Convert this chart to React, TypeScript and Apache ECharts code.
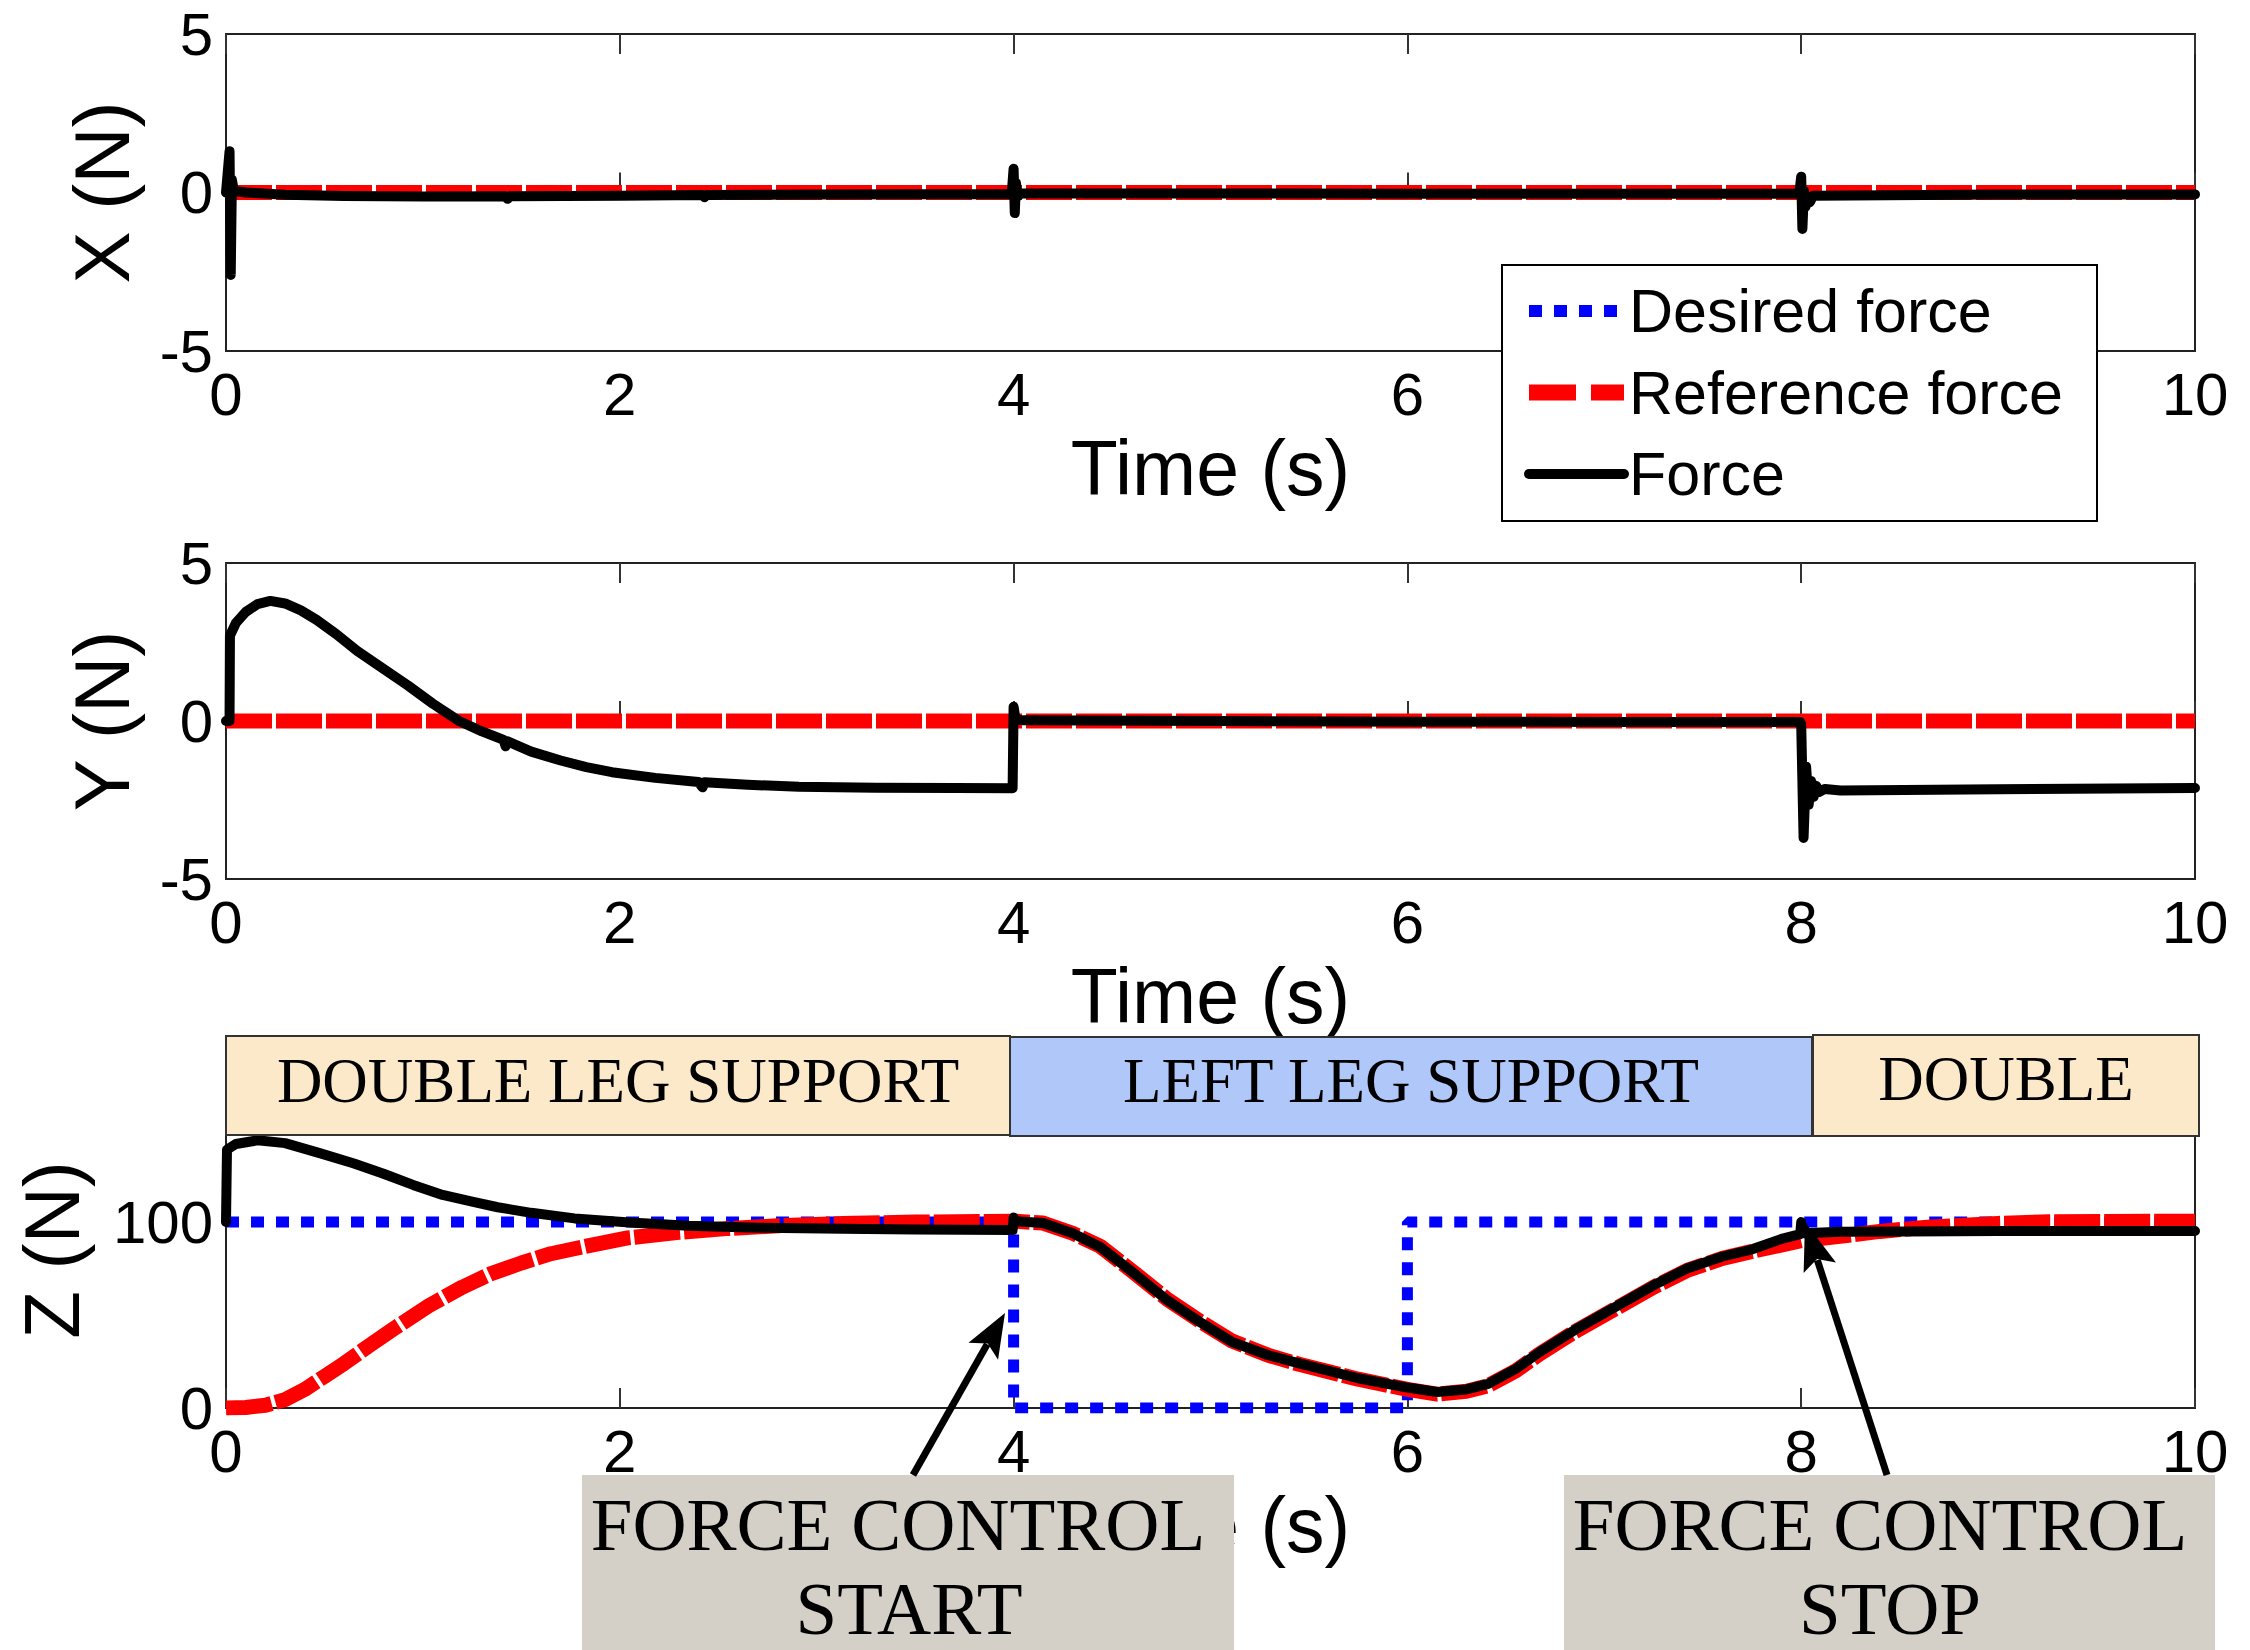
import React, { useEffect, useRef } from 'react';
import * as echarts from 'echarts';

// ---------- data ----------
const timeTicks = [0, 2, 4, 6, 8, 10];
const topHiddenTicks = [8]; // covered by the legend in the reference
const xyTickLabels = [-5, 0, 5];
const zTickLabels = [0, 100];
const seriesNames = ['Desired force', 'Reference force', 'Force'];
const axisNames = ['X (N)', 'Y (N)', 'Z (N)'];
const phaseLabels = ['DOUBLE LEG SUPPORT', 'LEFT LEG SUPPORT', 'DOUBLE'];
const startLabel = ['FORCE CONTROL', 'START'];
const stopLabel = ['FORCE CONTROL', 'STOP'];

const xDesired = [[0, 0], [10, 0]];
const xReference = [[0, 0], [10, 0]];
const xForce = [
  [0, 0], [0.018, 1.3], [0.024, -2.6], [0.03, 0.4], [0.04, 0.05], [0.1, 0.0], [0.3, -0.07], [0.6, -0.11],
  [1.0, -0.13], [1.42, -0.12], [1.43, -0.2], [1.44, -0.12], [2.0, -0.1], [2.42, -0.08], [2.43, -0.15],
  [2.44, -0.08], [3.0, -0.06], [3.99, -0.05], [4.0, 0.75], [4.006, -0.65], [4.012, 0.3], [4.02, -0.12],
  [4.04, -0.02], [5.0, -0.03], [6.0, -0.04], [7.0, -0.04], [7.99, -0.04], [8.0, 0.5], [8.006, -1.15],
  [8.014, 0.05], [8.022, -0.45], [8.032, -0.15], [8.045, -0.3], [8.06, -0.1], [9.0, -0.06], [10, -0.06],
];

const yDesired = [[0, 0], [10, 0]];
const yReference = [[0, 0], [10, 0]];
const yForce = [
  [0, 0], [0.018, 0], [0.02, 2.7], [0.05, 3.1], [0.1, 3.45], [0.16, 3.7], [0.225, 3.8], [0.3, 3.72],
  [0.38, 3.5], [0.46, 3.2], [0.56, 2.75], [0.666, 2.22], [0.8, 1.65], [0.925, 1.12], [1.05, 0.55],
  [1.184, 0.0], [1.3, -0.33], [1.41, -0.6], [1.42, -0.8], [1.43, -0.64], [1.55, -0.97], [1.7, -1.25],
  [1.83, -1.46], [1.96, -1.62], [2.18, -1.8], [2.4, -1.93], [2.42, -2.1], [2.43, -1.94], [2.65, -2.02],
  [2.91, -2.08], [3.3, -2.11], [3.7, -2.12], [3.995, -2.13], [4.0, 0.45], [4.01, 0.05], [4.05, 0.02],
  [5, 0.0], [6, -0.02], [7, -0.03], [7.995, -0.03], [8.0, -0.1], [8.012, -3.7], [8.025, -1.45],
  [8.038, -2.65], [8.05, -1.9], [8.063, -2.4], [8.076, -2.05], [8.09, -2.25], [8.12, -2.15], [8.2, -2.2],
  [9, -2.16], [10, -2.12],
];

const zDesired = [[0, 100], [4, 100], [4, 0], [6, 0], [6, 100], [10, 100]];
const zReference = [
  [0, 0], [0.1, 0.3], [0.2, 1.5], [0.3, 4.5], [0.4, 10], [0.5, 17], [0.6, 24], [0.72, 33], [0.85, 42.5],
  [1.03, 55], [1.2, 65], [1.34, 72], [1.5, 78], [1.65, 83], [1.85, 87.5], [2.04, 91.5], [2.3, 94.5],
  [2.54, 96.5], [2.8, 98], [3.13, 99.2], [3.5, 100], [4.0, 100.5], [4.15, 99.5], [4.3, 94], [4.44, 87],
  [4.61, 73], [4.78, 58.5], [4.95, 46.5], [5.11, 36], [5.29, 28.5], [5.45, 23.5], [5.75, 15.5], [6.0, 10],
  [6.15, 7.5], [6.3, 9], [6.41, 12], [6.55, 20], [6.67, 29], [6.85, 41], [7.05, 53], [7.25, 65], [7.42, 74],
  [7.6, 80.5], [7.74, 84], [8.0, 90], [8.13, 91.5], [8.4, 95], [8.64, 97.3], [9.0, 99.3], [9.26, 100.2],
  [10, 100.5],
];
const zForce = [
  [0, 100], [0.005, 139], [0.05, 142], [0.16, 144], [0.3, 142.5], [0.48, 137], [0.65, 131.5], [0.8, 126],
  [0.95, 120], [1.1, 114.6], [1.25, 111], [1.38, 108], [1.55, 105], [1.77, 102], [2.05, 99.8], [2.35, 98],
  [2.7, 97], [3.13, 96.4], [3.5, 96], [3.995, 95.7], [4.0, 102.5], [4.01, 100.5], [4.15, 99.5], [4.3, 94],
  [4.44, 86.6], [4.61, 72.6], [4.78, 58], [4.95, 46], [5.11, 35.5], [5.29, 28.5], [5.45, 24], [5.75, 16],
  [6.0, 11], [6.15, 8.6], [6.3, 10], [6.41, 13], [6.55, 21], [6.67, 30], [6.85, 42], [7.05, 54], [7.25, 66],
  [7.42, 75], [7.6, 81.5], [7.74, 85], [7.9, 91], [7.995, 93.5], [8.0, 100], [8.01, 94], [8.2, 94.8],
  [8.54, 95], [9, 95.2], [10, 95.2],
];

// ---------- styling ----------
const SANS = '"Liberation Sans", Arial, sans-serif';
const SERIF = '"Liberation Serif", "Times New Roman", serif';
const BLUE_DASH = [13, 12];
const RED_DASH = [46, 4];

const grids = [
  { left: 226, top: 34, width: 1969, height: 317 },
  { left: 226, top: 563, width: 1969, height: 316 },
  { left: 226, top: 1092, width: 1969, height: 316 },
];

function arrow(tail: number[], tip: number[], len: number, half: number) {
  const dx = tip[0] - tail[0];
  const dy = tip[1] - tail[1];
  const d = Math.sqrt(dx * dx + dy * dy);
  const ux = dx / d;
  const uy = dy / d;
  const bx = tip[0] - ux * len;
  const by = tip[1] - uy * len;
  const px = -uy;
  const py = ux;
  return [
    {
      type: 'line',
      z: 120,
      shape: { x1: tail[0], y1: tail[1], x2: bx + ux * 8, y2: by + uy * 8 },
      style: { stroke: '#000', lineWidth: 7 },
    },
    {
      type: 'polygon',
      z: 121,
      shape: {
        points: [
          [tip[0], tip[1]],
          [bx + px * half, by + py * half],
          [bx + ux * 9, by + uy * 9],
          [bx - px * half, by - py * half],
        ],
      },
      style: { fill: '#000' },
    },
  ];
}

function banner(x: number, y: number, w: number, h: number, fill: string, label: string, tx: number, ty: number) {
  return [
    { type: 'rect', z: 100, shape: { x, y, width: w, height: h }, style: { fill, stroke: '#333', lineWidth: 2 } },
    {
      type: 'text', z: 101, x: tx, y: ty,
      style: {
        text: label, fill: '#000', fontSize: 63, fontFamily: SERIF,
        align: 'center', verticalAlign: 'middle', textAlign: 'center', textVerticalAlign: 'middle',
      },
    },
  ];
}

function noteBox(x: number, w: number, lines: string[], cx1: number, cx2: number) {
  return [
    { type: 'rect', z: 110, shape: { x, y: 1475, width: w, height: 175 }, style: { fill: '#D4D0C8' } },
    {
      type: 'text', z: 111, x: cx1, y: 1524,
      style: {
        text: lines[0], fill: '#000', fontSize: 75, fontFamily: SERIF,
        align: 'center', verticalAlign: 'middle', textAlign: 'center', textVerticalAlign: 'middle',
      },
    },
    {
      type: 'text', z: 111, x: cx2, y: 1608,
      style: {
        text: lines[1], fill: '#000', fontSize: 75, fontFamily: SERIF,
        align: 'center', verticalAlign: 'middle', textAlign: 'center', textVerticalAlign: 'middle',
      },
    },
  ];
}

export default function App() {
  const ref = useRef<HTMLDivElement>(null);

  useEffect(() => {
    if (!ref.current) return;
    const chart = echarts.init(ref.current, undefined, { renderer: 'svg' });

    const tMin = timeTicks[0];
    const tMax = timeTicks[timeTicks.length - 1];
    const tInt = timeTicks[1] - timeTicks[0];

    const xAxes: any[] = [];
    grids.forEach((_, i) => {
      xAxes.push({
        type: 'value', gridIndex: i, min: tMin, max: tMax, interval: tInt, position: 'bottom',
        name: 'Time (s)', nameLocation: 'middle', nameGap: 78,
        nameTextStyle: { fontSize: 77, color: '#000', fontFamily: SANS },
        axisLine: { show: false },
        axisTick: { show: true, inside: true, length: 20, lineStyle: { color: '#333', width: 2 } },
        axisLabel: {
          fontSize: 60, color: '#000', fontFamily: SANS, margin: 13,
          formatter: (v: number) => (i === 0 && topHiddenTicks.indexOf(v) >= 0 ? '' : String(v)),
        },
        splitLine: { show: false },
      });
    });
    grids.forEach((_, i) => {
      xAxes.push({
        type: 'value', gridIndex: i, min: tMin, max: tMax, interval: tInt, position: 'top',
        axisLine: { show: false },
        axisTick: { show: true, inside: true, length: 20, lineStyle: { color: '#333', width: 2 } },
        axisLabel: { show: false },
        splitLine: { show: false },
      });
    });

    const yAxes: any[] = grids.map((_, i) => {
      const isZ = i === 2;
      const labels = isZ ? zTickLabels : xyTickLabels;
      return {
        type: 'value', gridIndex: i,
        min: isZ ? 0 : xyTickLabels[0],
        max: isZ ? 170 : xyTickLabels[xyTickLabels.length - 1],
        interval: isZ ? 100 : 5,
        name: axisNames[i], nameLocation: 'middle', nameRotate: 90, nameGap: isZ ? 135 : 85,
        nameTextStyle: { fontSize: 78, color: '#000', fontFamily: SANS },
        axisLine: { show: false },
        axisTick: { show: false },
        axisLabel: {
          fontSize: 60, color: '#000', fontFamily: SANS, margin: 13,
          formatter: (v: number) => (labels.indexOf(v) >= 0 ? String(v) : ''),
        },
        splitLine: { show: false },
      };
    });

    const sets = [
      [xDesired, xReference, xForce],
      [yDesired, yReference, yForce],
      [zDesired, zReference, zForce],
    ];
    const series: any[] = [];
    sets.forEach((s, i) => {
      series.push({
        type: 'line', name: seriesNames[0], xAxisIndex: i, yAxisIndex: i, data: s[0],
        symbol: 'none', lineStyle: { color: '#0000FF', width: 11, type: BLUE_DASH, cap: 'butt' },
        itemStyle: { color: '#0000FF' },
      });
      series.push({
        type: 'line', name: seriesNames[1], xAxisIndex: i, yAxisIndex: i, data: s[1],
        symbol: 'none',
        lineStyle: { color: '#FF0000', width: 15, type: RED_DASH, cap: 'butt' },
        itemStyle: { color: '#FF0000' },
      });
      series.push({
        type: 'line', name: seriesNames[2], xAxisIndex: i, yAxisIndex: i, data: s[2],
        symbol: 'none',
        lineStyle: { color: '#000000', width: 10, type: 'solid', cap: 'round', join: 'round' },
        itemStyle: { color: '#000000' },
      });
    });

    const graphics: any[] = [
      ...banner(226, 1036, 784, 99, '#FCE9CA', phaseLabels[0], 618, 1081),
      ...banner(1010, 1037, 802, 99, '#B0C7F9', phaseLabels[1], 1411, 1081),
      ...banner(1813, 1035, 386, 101, '#FCE9CA', phaseLabels[2], 2006, 1079),
      ...noteBox(582, 652, startLabel, 898, 909),
      ...noteBox(1564, 651, stopLabel, 1880, 1890),
      ...arrow([913, 1475], [1005, 1313], 44, 17),
      ...arrow([1887, 1475], [1805, 1222], 48, 17),
    ];

    chart.setOption({
      animation: false,
      backgroundColor: '#fff',
      textStyle: { fontFamily: SANS },
      grid: grids.map((g) => ({ ...g, show: true, borderColor: '#222', borderWidth: 2, backgroundColor: 'transparent' })),
      xAxis: xAxes,
      yAxis: yAxes,
      legend: {
        data: [
          { name: seriesNames[0], lineStyle: { type: [13, 12], width: 12 } },
          { name: seriesNames[1], lineStyle: { type: [47, 15], width: 16 } },
          { name: seriesNames[2], lineStyle: { type: 'solid', width: 10 } },
        ],
        orient: 'vertical', left: 1502, top: 265,
        padding: [15, 34, 16, 19],
        itemWidth: 95, itemHeight: 17, itemGap: 19.5,
        itemStyle: { opacity: 0, color: 'transparent', borderWidth: 0 },
        backgroundColor: '#fff', borderColor: '#000', borderWidth: 2,
        textStyle: { fontSize: 61, color: '#000', fontFamily: SANS, lineHeight: 62 },
        selectedMode: false, z: 10,
      },
      series,
      graphic: { elements: graphics },
    });

    return () => chart.dispose();
  }, []);

  return (
    <div
      ref={ref}
      style={{ position: 'absolute', left: 0, top: 0, width: 2250, height: 1650, background: '#fff' }}
    />
  );
}
